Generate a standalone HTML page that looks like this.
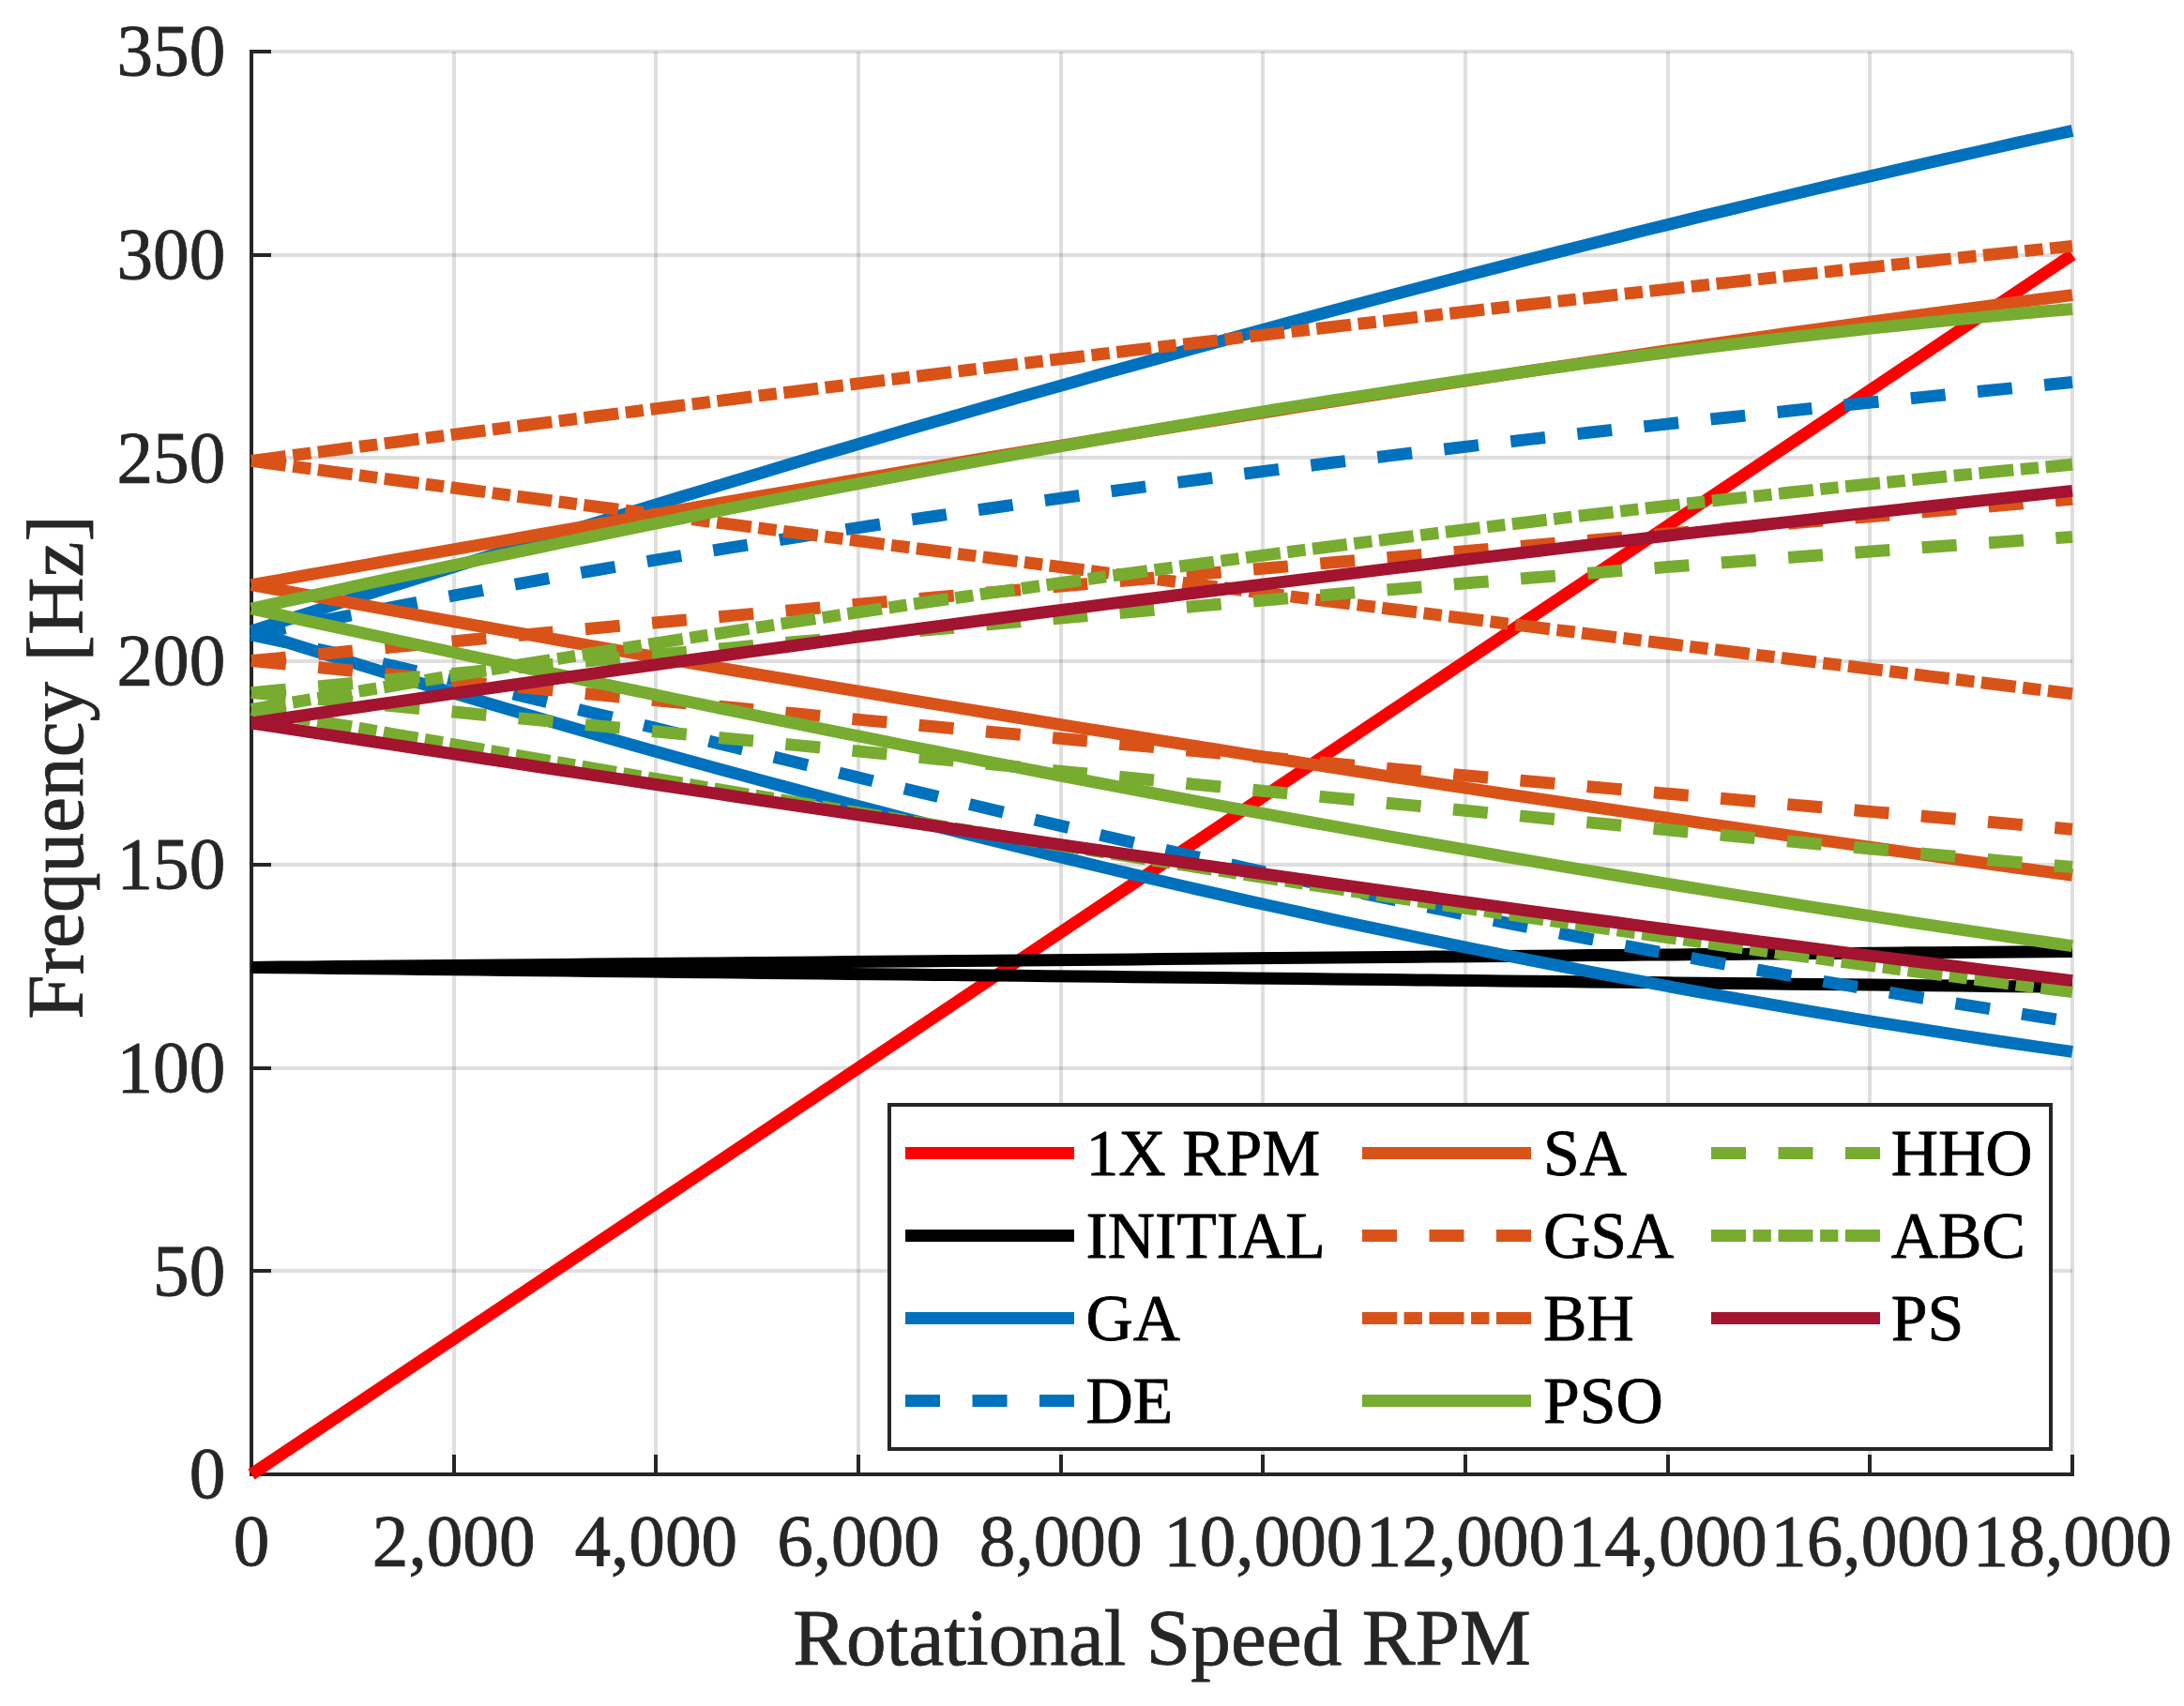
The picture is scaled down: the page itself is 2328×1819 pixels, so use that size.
<!DOCTYPE html>
<html lang="en"><head><meta charset="utf-8"><title>Campbell diagram</title>
<style>html,body{margin:0;padding:0;background:#fff;overflow:hidden}svg{display:block}text{font-family:"Liberation Serif","Times New Roman",serif}</style></head><body>
<svg width="2328" height="1819" viewBox="0 0 2328 1819">
<rect width="2328" height="1819" fill="#fff"/>
<g stroke="#262626" stroke-opacity="0.15" stroke-width="4" fill="none">
<line x1="268" y1="55.0" x2="268" y2="1572.0"/>
<line x1="484" y1="55.0" x2="484" y2="1572.0"/>
<line x1="699" y1="55.0" x2="699" y2="1572.0"/>
<line x1="915" y1="55.0" x2="915" y2="1572.0"/>
<line x1="1131" y1="55.0" x2="1131" y2="1572.0"/>
<line x1="1346" y1="55.0" x2="1346" y2="1572.0"/>
<line x1="1562" y1="55.0" x2="1562" y2="1572.0"/>
<line x1="1778" y1="55.0" x2="1778" y2="1572.0"/>
<line x1="1993" y1="55.0" x2="1993" y2="1572.0"/>
<line x1="2209" y1="55.0" x2="2209" y2="1572.0"/>
<line x1="268.0" y1="1572" x2="2209.0" y2="1572"/>
<line x1="268.0" y1="1355" x2="2209.0" y2="1355"/>
<line x1="268.0" y1="1139" x2="2209.0" y2="1139"/>
<line x1="268.0" y1="922" x2="2209.0" y2="922"/>
<line x1="268.0" y1="705" x2="2209.0" y2="705"/>
<line x1="268.0" y1="488" x2="2209.0" y2="488"/>
<line x1="268.0" y1="272" x2="2209.0" y2="272"/>
<line x1="268.0" y1="55" x2="2209.0" y2="55"/>
</g>
<g stroke="#262626" stroke-width="4" fill="none" stroke-linecap="butt">
<path d="M268.0,53.0 V1574.0"/>
<path d="M266.0,1572.0 H2211.0"/>
<line x1="268" y1="1572.0" x2="268" y2="1551.0"/>
<line x1="484" y1="1572.0" x2="484" y2="1551.0"/>
<line x1="699" y1="1572.0" x2="699" y2="1551.0"/>
<line x1="915" y1="1572.0" x2="915" y2="1551.0"/>
<line x1="1131" y1="1572.0" x2="1131" y2="1551.0"/>
<line x1="1346" y1="1572.0" x2="1346" y2="1551.0"/>
<line x1="1562" y1="1572.0" x2="1562" y2="1551.0"/>
<line x1="1778" y1="1572.0" x2="1778" y2="1551.0"/>
<line x1="1993" y1="1572.0" x2="1993" y2="1551.0"/>
<line x1="2209" y1="1572.0" x2="2209" y2="1551.0"/>
<line x1="268.0" y1="1572" x2="289.0" y2="1572"/>
<line x1="268.0" y1="1355" x2="289.0" y2="1355"/>
<line x1="268.0" y1="1139" x2="289.0" y2="1139"/>
<line x1="268.0" y1="922" x2="289.0" y2="922"/>
<line x1="268.0" y1="705" x2="289.0" y2="705"/>
<line x1="268.0" y1="488" x2="289.0" y2="488"/>
<line x1="268.0" y1="272" x2="289.0" y2="272"/>
<line x1="268.0" y1="55" x2="289.0" y2="55"/>
</g>
<g fill="none" stroke-width="13" stroke-linecap="butt" stroke-linejoin="round">
<path d="M268.0,1572.0 L2209.0,271.7" stroke="#ff0000"/>
<path d="M268.0,1031.4 L298.3,1031.1 L328.7,1030.9 L359.0,1030.6 L389.3,1030.3 L419.6,1030.0 L450.0,1029.8 L480.3,1029.5 L510.6,1029.2 L541.0,1028.9 L571.3,1028.7 L601.6,1028.4 L631.9,1028.1 L662.3,1027.8 L692.6,1027.5 L722.9,1027.3 L753.2,1027.0 L783.6,1026.7 L813.9,1026.4 L844.2,1026.2 L874.6,1025.9 L904.9,1025.6 L935.2,1025.3 L965.5,1025.1 L995.9,1024.8 L1026.2,1024.5 L1056.5,1024.2 L1086.9,1024.0 L1117.2,1023.7 L1147.5,1023.4 L1177.8,1023.2 L1208.2,1022.9 L1238.5,1022.6 L1268.8,1022.3 L1299.2,1022.1 L1329.5,1021.8 L1359.8,1021.5 L1390.1,1021.3 L1420.5,1021.0 L1450.8,1020.7 L1481.1,1020.5 L1511.5,1020.2 L1541.8,1019.9 L1572.1,1019.7 L1602.4,1019.4 L1632.8,1019.2 L1663.1,1018.9 L1693.4,1018.6 L1723.8,1018.4 L1754.1,1018.1 L1784.4,1017.9 L1814.7,1017.6 L1845.1,1017.4 L1875.4,1017.1 L1905.7,1016.9 L1936.0,1016.6 L1966.4,1016.4 L1996.7,1016.2 L2027.0,1015.9 L2057.4,1015.7 L2087.7,1015.4 L2118.0,1015.2 L2148.3,1015.0 L2178.7,1014.7 L2209.0,1014.5" stroke="#000000"/>
<path d="M268.0,1031.4 L298.3,1031.7 L328.7,1032.1 L359.0,1032.4 L389.3,1032.7 L419.6,1033.1 L450.0,1033.4 L480.3,1033.7 L510.6,1034.1 L541.0,1034.4 L571.3,1034.7 L601.6,1035.1 L631.9,1035.4 L662.3,1035.7 L692.6,1036.1 L722.9,1036.4 L753.2,1036.7 L783.6,1037.0 L813.9,1037.4 L844.2,1037.7 L874.6,1038.0 L904.9,1038.4 L935.2,1038.7 L965.5,1039.0 L995.9,1039.4 L1026.2,1039.7 L1056.5,1040.0 L1086.9,1040.3 L1117.2,1040.7 L1147.5,1041.0 L1177.8,1041.3 L1208.2,1041.7 L1238.5,1042.0 L1268.8,1042.3 L1299.2,1042.6 L1329.5,1043.0 L1359.8,1043.3 L1390.1,1043.6 L1420.5,1043.9 L1450.8,1044.3 L1481.1,1044.6 L1511.5,1044.9 L1541.8,1045.3 L1572.1,1045.6 L1602.4,1045.9 L1632.8,1046.2 L1663.1,1046.6 L1693.4,1046.9 L1723.8,1047.2 L1754.1,1047.5 L1784.4,1047.9 L1814.7,1048.2 L1845.1,1048.5 L1875.4,1048.8 L1905.7,1049.2 L1936.0,1049.5 L1966.4,1049.8 L1996.7,1050.1 L2027.0,1050.5 L2057.4,1050.8 L2087.7,1051.1 L2118.0,1051.4 L2148.3,1051.8 L2178.7,1052.1 L2209.0,1052.4" stroke="#000000"/>
<path d="M268.0,673.0 L298.3,663.3 L328.7,653.6 L359.0,643.9 L389.3,634.2 L419.6,624.6 L450.0,615.1 L480.3,605.6 L510.6,596.1 L541.0,586.6 L571.3,577.2 L601.6,567.8 L631.9,558.5 L662.3,549.2 L692.6,540.0 L722.9,530.8 L753.2,521.6 L783.6,512.5 L813.9,503.4 L844.2,494.3 L874.6,485.3 L904.9,476.4 L935.2,467.5 L965.5,458.6 L995.9,449.8 L1026.2,441.0 L1056.5,432.3 L1086.9,423.6 L1117.2,415.0 L1147.5,406.4 L1177.8,397.8 L1208.2,389.4 L1238.5,380.9 L1268.8,372.5 L1299.2,364.2 L1329.5,355.9 L1359.8,347.7 L1390.1,339.5 L1420.5,331.3 L1450.8,323.2 L1481.1,315.2 L1511.5,307.2 L1541.8,299.3 L1572.1,291.4 L1602.4,283.6 L1632.8,275.8 L1663.1,268.1 L1693.4,260.5 L1723.8,252.9 L1754.1,245.3 L1784.4,237.9 L1814.7,230.4 L1845.1,223.1 L1875.4,215.8 L1905.7,208.5 L1936.0,201.3 L1966.4,194.2 L1996.7,187.1 L2027.0,180.1 L2057.4,173.2 L2087.7,166.3 L2118.0,159.5 L2148.3,152.7 L2178.7,146.0 L2209.0,139.4" stroke="#0072bd"/>
<path d="M268.0,673.0 L298.3,682.5 L328.7,692.0 L359.0,701.3 L389.3,710.6 L419.6,719.9 L450.0,729.0 L480.3,738.1 L510.6,747.1 L541.0,756.0 L571.3,764.8 L601.6,773.6 L631.9,782.3 L662.3,790.9 L692.6,799.4 L722.9,807.9 L753.2,816.3 L783.6,824.6 L813.9,832.8 L844.2,840.9 L874.6,849.0 L904.9,857.0 L935.2,864.9 L965.5,872.7 L995.9,880.4 L1026.2,888.1 L1056.5,895.7 L1086.9,903.2 L1117.2,910.6 L1147.5,917.9 L1177.8,925.2 L1208.2,932.4 L1238.5,939.5 L1268.8,946.5 L1299.2,953.4 L1329.5,960.3 L1359.8,967.0 L1390.1,973.7 L1420.5,980.3 L1450.8,986.8 L1481.1,993.2 L1511.5,999.6 L1541.8,1005.8 L1572.1,1012.0 L1602.4,1018.1 L1632.8,1024.1 L1663.1,1030.0 L1693.4,1035.8 L1723.8,1041.6 L1754.1,1047.2 L1784.4,1052.8 L1814.7,1058.3 L1845.1,1063.6 L1875.4,1068.9 L1905.7,1074.2 L1936.0,1079.3 L1966.4,1084.3 L1996.7,1089.3 L2027.0,1094.1 L2057.4,1098.9 L2087.7,1103.6 L2118.0,1108.2 L2148.3,1112.7 L2178.7,1117.1 L2209.0,1121.4" stroke="#0072bd"/>
<path d="M268.0,677.0 L298.3,670.8 L328.7,664.8 L359.0,658.8 L389.3,652.9 L419.6,647.1 L450.0,641.3 L480.3,635.7 L510.6,630.1 L541.0,624.6 L571.3,619.2 L601.6,613.8 L631.9,608.5 L662.3,603.3 L692.6,598.2 L722.9,593.1 L753.2,588.1 L783.6,583.2 L813.9,578.3 L844.2,573.5 L874.6,568.8 L904.9,564.1 L935.2,559.5 L965.5,554.9 L995.9,550.5 L1026.2,546.0 L1056.5,541.7 L1086.9,537.3 L1117.2,533.1 L1147.5,528.9 L1177.8,524.7 L1208.2,520.6 L1238.5,516.6 L1268.8,512.6 L1299.2,508.6 L1329.5,504.7 L1359.8,500.9 L1390.1,497.1 L1420.5,493.3 L1450.8,489.6 L1481.1,485.9 L1511.5,482.3 L1541.8,478.7 L1572.1,475.1 L1602.4,471.6 L1632.8,468.1 L1663.1,464.7 L1693.4,461.3 L1723.8,457.9 L1754.1,454.6 L1784.4,451.2 L1814.7,448.0 L1845.1,444.7 L1875.4,441.5 L1905.7,438.3 L1936.0,435.1 L1966.4,432.0 L1996.7,428.8 L2027.0,425.7 L2057.4,422.6 L2087.7,419.6 L2118.0,416.5 L2148.3,413.5 L2178.7,410.5 L2209.0,407.5" stroke="#0072bd" stroke-dasharray="37 34.5"/>
<path d="M268.0,677.0 L298.3,683.4 L328.7,690.0 L359.0,696.6 L389.3,703.4 L419.6,710.2 L450.0,717.2 L480.3,724.2 L510.6,731.3 L541.0,738.4 L571.3,745.6 L601.6,752.9 L631.9,760.2 L662.3,767.5 L692.6,774.8 L722.9,782.2 L753.2,789.6 L783.6,797.0 L813.9,804.4 L844.2,811.8 L874.6,819.2 L904.9,826.5 L935.2,833.9 L965.5,841.2 L995.9,848.5 L1026.2,855.8 L1056.5,863.0 L1086.9,870.2 L1117.2,877.3 L1147.5,884.4 L1177.8,891.5 L1208.2,898.5 L1238.5,905.4 L1268.8,912.3 L1299.2,919.1 L1329.5,925.8 L1359.8,932.5 L1390.1,939.1 L1420.5,945.6 L1450.8,952.1 L1481.1,958.5 L1511.5,964.8 L1541.8,971.0 L1572.1,977.2 L1602.4,983.3 L1632.8,989.3 L1663.1,995.2 L1693.4,1001.0 L1723.8,1006.8 L1754.1,1012.5 L1784.4,1018.1 L1814.7,1023.6 L1845.1,1029.1 L1875.4,1034.5 L1905.7,1039.8 L1936.0,1045.1 L1966.4,1050.2 L1996.7,1055.3 L2027.0,1060.4 L2057.4,1065.4 L2087.7,1070.3 L2118.0,1075.2 L2148.3,1080.0 L2178.7,1084.8 L2209.0,1089.5" stroke="#0072bd" stroke-dasharray="37 34.5"/>
<path d="M268.0,623.6 L298.3,618.3 L328.7,612.9 L359.0,607.6 L389.3,602.3 L419.6,597.0 L450.0,591.7 L480.3,586.4 L510.6,581.1 L541.0,575.8 L571.3,570.5 L601.6,565.2 L631.9,559.9 L662.3,554.7 L692.6,549.4 L722.9,544.2 L753.2,539.0 L783.6,533.7 L813.9,528.5 L844.2,523.3 L874.6,518.2 L904.9,513.0 L935.2,507.9 L965.5,502.7 L995.9,497.6 L1026.2,492.5 L1056.5,487.4 L1086.9,482.4 L1117.2,477.3 L1147.5,472.3 L1177.8,467.3 L1208.2,462.3 L1238.5,457.4 L1268.8,452.4 L1299.2,447.5 L1329.5,442.6 L1359.8,437.8 L1390.1,432.9 L1420.5,428.1 L1450.8,423.4 L1481.1,418.6 L1511.5,413.9 L1541.8,409.2 L1572.1,404.5 L1602.4,399.9 L1632.8,395.3 L1663.1,390.7 L1693.4,386.2 L1723.8,381.7 L1754.1,377.2 L1784.4,372.7 L1814.7,368.3 L1845.1,364.0 L1875.4,359.6 L1905.7,355.3 L1936.0,351.1 L1966.4,346.9 L1996.7,342.7 L2027.0,338.6 L2057.4,334.5 L2087.7,330.4 L2118.0,326.4 L2148.3,322.4 L2178.7,318.5 L2209.0,314.6" stroke="#d95319"/>
<path d="M268.0,623.6 L298.3,629.2 L328.7,634.7 L359.0,640.2 L389.3,645.7 L419.6,651.2 L450.0,656.6 L480.3,662.1 L510.6,667.5 L541.0,672.8 L571.3,678.2 L601.6,683.5 L631.9,688.8 L662.3,694.1 L692.6,699.3 L722.9,704.6 L753.2,709.8 L783.6,715.0 L813.9,720.1 L844.2,725.2 L874.6,730.4 L904.9,735.4 L935.2,740.5 L965.5,745.6 L995.9,750.6 L1026.2,755.6 L1056.5,760.5 L1086.9,765.5 L1117.2,770.4 L1147.5,775.3 L1177.8,780.2 L1208.2,785.0 L1238.5,789.9 L1268.8,794.7 L1299.2,799.5 L1329.5,804.3 L1359.8,809.0 L1390.1,813.7 L1420.5,818.4 L1450.8,823.1 L1481.1,827.8 L1511.5,832.4 L1541.8,837.0 L1572.1,841.6 L1602.4,846.2 L1632.8,850.7 L1663.1,855.3 L1693.4,859.8 L1723.8,864.3 L1754.1,868.7 L1784.4,873.2 L1814.7,877.6 L1845.1,882.0 L1875.4,886.4 L1905.7,890.8 L1936.0,895.1 L1966.4,899.4 L1996.7,903.7 L2027.0,908.0 L2057.4,912.3 L2087.7,916.5 L2118.0,920.8 L2148.3,925.0 L2178.7,929.1 L2209.0,933.3" stroke="#d95319"/>
<path d="M268.0,704.5 L298.3,701.6 L328.7,698.6 L359.0,695.7 L389.3,692.8 L419.6,689.9 L450.0,687.1 L480.3,684.2 L510.6,681.3 L541.0,678.5 L571.3,675.7 L601.6,672.8 L631.9,670.0 L662.3,667.2 L692.6,664.4 L722.9,661.7 L753.2,658.9 L783.6,656.1 L813.9,653.4 L844.2,650.6 L874.6,647.9 L904.9,645.1 L935.2,642.4 L965.5,639.7 L995.9,637.0 L1026.2,634.3 L1056.5,631.6 L1086.9,628.9 L1117.2,626.2 L1147.5,623.6 L1177.8,620.9 L1208.2,618.2 L1238.5,615.6 L1268.8,612.9 L1299.2,610.3 L1329.5,607.6 L1359.8,605.0 L1390.1,602.4 L1420.5,599.7 L1450.8,597.1 L1481.1,594.5 L1511.5,591.9 L1541.8,589.3 L1572.1,586.7 L1602.4,584.1 L1632.8,581.5 L1663.1,578.9 L1693.4,576.3 L1723.8,573.7 L1754.1,571.1 L1784.4,568.5 L1814.7,565.9 L1845.1,563.3 L1875.4,560.7 L1905.7,558.2 L1936.0,555.6 L1966.4,553.0 L1996.7,550.4 L2027.0,547.8 L2057.4,545.2 L2087.7,542.6 L2118.0,540.1 L2148.3,537.5 L2178.7,534.9 L2209.0,532.3" stroke="#d95319" stroke-dasharray="37 34.5"/>
<path d="M268.0,704.5 L298.3,707.5 L328.7,710.5 L359.0,713.5 L389.3,716.5 L419.6,719.5 L450.0,722.5 L480.3,725.5 L510.6,728.4 L541.0,731.4 L571.3,734.3 L601.6,737.3 L631.9,740.2 L662.3,743.1 L692.6,746.1 L722.9,749.0 L753.2,751.9 L783.6,754.8 L813.9,757.7 L844.2,760.5 L874.6,763.4 L904.9,766.3 L935.2,769.1 L965.5,772.0 L995.9,774.8 L1026.2,777.7 L1056.5,780.5 L1086.9,783.3 L1117.2,786.2 L1147.5,789.0 L1177.8,791.8 L1208.2,794.6 L1238.5,797.4 L1268.8,800.2 L1299.2,803.0 L1329.5,805.7 L1359.8,808.5 L1390.1,811.3 L1420.5,814.0 L1450.8,816.8 L1481.1,819.5 L1511.5,822.3 L1541.8,825.0 L1572.1,827.8 L1602.4,830.5 L1632.8,833.2 L1663.1,835.9 L1693.4,838.7 L1723.8,841.4 L1754.1,844.1 L1784.4,846.8 L1814.7,849.5 L1845.1,852.2 L1875.4,854.9 L1905.7,857.6 L1936.0,860.2 L1966.4,862.9 L1996.7,865.6 L2027.0,868.3 L2057.4,870.9 L2087.7,873.6 L2118.0,876.2 L2148.3,878.9 L2178.7,881.6 L2209.0,884.2" stroke="#d95319" stroke-dasharray="37 34.5"/>
<path d="M268.0,491.4 L298.3,487.4 L328.7,483.4 L359.0,479.5 L389.3,475.5 L419.6,471.6 L450.0,467.6 L480.3,463.7 L510.6,459.8 L541.0,455.9 L571.3,452.0 L601.6,448.2 L631.9,444.3 L662.3,440.5 L692.6,436.6 L722.9,432.8 L753.2,429.0 L783.6,425.2 L813.9,421.4 L844.2,417.7 L874.6,413.9 L904.9,410.2 L935.2,406.4 L965.5,402.7 L995.9,399.0 L1026.2,395.3 L1056.5,391.6 L1086.9,388.0 L1117.2,384.3 L1147.5,380.7 L1177.8,377.0 L1208.2,373.4 L1238.5,369.8 L1268.8,366.3 L1299.2,362.7 L1329.5,359.1 L1359.8,355.6 L1390.1,352.1 L1420.5,348.5 L1450.8,345.0 L1481.1,341.6 L1511.5,338.1 L1541.8,334.6 L1572.1,331.2 L1602.4,327.8 L1632.8,324.4 L1663.1,321.0 L1693.4,317.6 L1723.8,314.2 L1754.1,310.9 L1784.4,307.5 L1814.7,304.2 L1845.1,300.9 L1875.4,297.6 L1905.7,294.3 L1936.0,291.1 L1966.4,287.8 L1996.7,284.6 L2027.0,281.4 L2057.4,278.2 L2087.7,275.0 L2118.0,271.8 L2148.3,268.7 L2178.7,265.5 L2209.0,262.4" stroke="#d95319" stroke-dasharray="37 7.6 19.3 7.6"/>
<path d="M268.0,491.4 L298.3,495.5 L328.7,499.5 L359.0,503.6 L389.3,507.6 L419.6,511.7 L450.0,515.7 L480.3,519.7 L510.6,523.7 L541.0,527.8 L571.3,531.8 L601.6,535.8 L631.9,539.8 L662.3,543.7 L692.6,547.7 L722.9,551.7 L753.2,555.7 L783.6,559.6 L813.9,563.6 L844.2,567.5 L874.6,571.5 L904.9,575.4 L935.2,579.4 L965.5,583.3 L995.9,587.2 L1026.2,591.1 L1056.5,595.0 L1086.9,598.9 L1117.2,602.8 L1147.5,606.7 L1177.8,610.6 L1208.2,614.5 L1238.5,618.4 L1268.8,622.3 L1299.2,626.1 L1329.5,630.0 L1359.8,633.8 L1390.1,637.7 L1420.5,641.5 L1450.8,645.4 L1481.1,649.2 L1511.5,653.0 L1541.8,656.8 L1572.1,660.7 L1602.4,664.5 L1632.8,668.3 L1663.1,672.1 L1693.4,675.9 L1723.8,679.7 L1754.1,683.5 L1784.4,687.2 L1814.7,691.0 L1845.1,694.8 L1875.4,698.6 L1905.7,702.3 L1936.0,706.1 L1966.4,709.8 L1996.7,713.6 L2027.0,717.3 L2057.4,721.1 L2087.7,724.8 L2118.0,728.5 L2148.3,732.3 L2178.7,736.0 L2209.0,739.7" stroke="#d95319" stroke-dasharray="37 7.6 19.3 7.6"/>
<path d="M268.0,649.0 L298.3,642.4 L328.7,635.8 L359.0,629.3 L389.3,622.7 L419.6,616.2 L450.0,609.8 L480.3,603.4 L510.6,597.0 L541.0,590.6 L571.3,584.3 L601.6,578.0 L631.9,571.8 L662.3,565.6 L692.6,559.4 L722.9,553.3 L753.2,547.2 L783.6,541.2 L813.9,535.2 L844.2,529.3 L874.6,523.4 L904.9,517.6 L935.2,511.8 L965.5,506.0 L995.9,500.4 L1026.2,494.7 L1056.5,489.2 L1086.9,483.7 L1117.2,478.2 L1147.5,472.8 L1177.8,467.5 L1208.2,462.2 L1238.5,457.0 L1268.8,451.8 L1299.2,446.7 L1329.5,441.7 L1359.8,436.7 L1390.1,431.8 L1420.5,427.0 L1450.8,422.3 L1481.1,417.6 L1511.5,413.0 L1541.8,408.4 L1572.1,404.0 L1602.4,399.6 L1632.8,395.3 L1663.1,391.1 L1693.4,386.9 L1723.8,382.8 L1754.1,378.8 L1784.4,374.9 L1814.7,371.1 L1845.1,367.3 L1875.4,363.7 L1905.7,360.1 L1936.0,356.6 L1966.4,353.2 L1996.7,349.9 L2027.0,346.7 L2057.4,343.6 L2087.7,340.6 L2118.0,337.6 L2148.3,334.8 L2178.7,332.0 L2209.0,329.4" stroke="#77ac30"/>
<path d="M268.0,649.0 L298.3,655.7 L328.7,662.3 L359.0,668.9 L389.3,675.5 L419.6,682.0 L450.0,688.5 L480.3,695.0 L510.6,701.5 L541.0,707.9 L571.3,714.3 L601.6,720.7 L631.9,727.1 L662.3,733.4 L692.6,739.7 L722.9,746.0 L753.2,752.2 L783.6,758.4 L813.9,764.6 L844.2,770.7 L874.6,776.8 L904.9,782.9 L935.2,788.9 L965.5,795.0 L995.9,800.9 L1026.2,806.9 L1056.5,812.8 L1086.9,818.7 L1117.2,824.5 L1147.5,830.3 L1177.8,836.1 L1208.2,841.8 L1238.5,847.5 L1268.8,853.2 L1299.2,858.8 L1329.5,864.4 L1359.8,869.9 L1390.1,875.5 L1420.5,880.9 L1450.8,886.4 L1481.1,891.8 L1511.5,897.1 L1541.8,902.4 L1572.1,907.7 L1602.4,913.0 L1632.8,918.2 L1663.1,923.3 L1693.4,928.4 L1723.8,933.5 L1754.1,938.5 L1784.4,943.5 L1814.7,948.4 L1845.1,953.3 L1875.4,958.2 L1905.7,963.0 L1936.0,967.8 L1966.4,972.5 L1996.7,977.2 L2027.0,981.8 L2057.4,986.4 L2087.7,990.9 L2118.0,995.4 L2148.3,999.9 L2178.7,1004.3 L2209.0,1008.6" stroke="#77ac30"/>
<path d="M268.0,738.6 L298.3,735.7 L328.7,732.9 L359.0,730.0 L389.3,727.2 L419.6,724.3 L450.0,721.5 L480.3,718.6 L510.6,715.8 L541.0,712.9 L571.3,710.1 L601.6,707.3 L631.9,704.4 L662.3,701.6 L692.6,698.8 L722.9,696.0 L753.2,693.2 L783.6,690.4 L813.9,687.6 L844.2,684.8 L874.6,682.1 L904.9,679.3 L935.2,676.5 L965.5,673.8 L995.9,671.1 L1026.2,668.3 L1056.5,665.6 L1086.9,662.9 L1117.2,660.2 L1147.5,657.5 L1177.8,654.8 L1208.2,652.2 L1238.5,649.5 L1268.8,646.9 L1299.2,644.2 L1329.5,641.6 L1359.8,639.0 L1390.1,636.4 L1420.5,633.8 L1450.8,631.2 L1481.1,628.7 L1511.5,626.2 L1541.8,623.6 L1572.1,621.1 L1602.4,618.6 L1632.8,616.1 L1663.1,613.7 L1693.4,611.2 L1723.8,608.8 L1754.1,606.4 L1784.4,604.0 L1814.7,601.6 L1845.1,599.2 L1875.4,596.9 L1905.7,594.6 L1936.0,592.3 L1966.4,590.0 L1996.7,587.7 L2027.0,585.5 L2057.4,583.2 L2087.7,581.0 L2118.0,578.8 L2148.3,576.7 L2178.7,574.5 L2209.0,572.4" stroke="#77ac30" stroke-dasharray="37 34.5"/>
<path d="M268.0,738.6 L298.3,741.4 L328.7,744.3 L359.0,747.2 L389.3,750.1 L419.6,752.9 L450.0,755.8 L480.3,758.7 L510.6,761.7 L541.0,764.6 L571.3,767.5 L601.6,770.4 L631.9,773.4 L662.3,776.3 L692.6,779.3 L722.9,782.2 L753.2,785.2 L783.6,788.1 L813.9,791.1 L844.2,794.1 L874.6,797.0 L904.9,800.0 L935.2,803.0 L965.5,806.0 L995.9,809.0 L1026.2,811.9 L1056.5,814.9 L1086.9,817.9 L1117.2,820.9 L1147.5,823.9 L1177.8,826.8 L1208.2,829.8 L1238.5,832.8 L1268.8,835.8 L1299.2,838.7 L1329.5,841.7 L1359.8,844.7 L1390.1,847.6 L1420.5,850.6 L1450.8,853.5 L1481.1,856.5 L1511.5,859.4 L1541.8,862.3 L1572.1,865.3 L1602.4,868.2 L1632.8,871.1 L1663.1,874.0 L1693.4,876.9 L1723.8,879.8 L1754.1,882.7 L1784.4,885.5 L1814.7,888.4 L1845.1,891.2 L1875.4,894.1 L1905.7,896.9 L1936.0,899.7 L1966.4,902.5 L1996.7,905.3 L2027.0,908.1 L2057.4,910.9 L2087.7,913.6 L2118.0,916.4 L2148.3,919.1 L2178.7,921.8 L2209.0,924.5" stroke="#77ac30" stroke-dasharray="37 34.5"/>
<path d="M268.0,756.5 L298.3,751.3 L328.7,746.2 L359.0,741.1 L389.3,736.0 L419.6,731.0 L450.0,725.9 L480.3,720.9 L510.6,716.0 L541.0,711.0 L571.3,706.1 L601.6,701.3 L631.9,696.4 L662.3,691.6 L692.6,686.8 L722.9,682.1 L753.2,677.4 L783.6,672.7 L813.9,668.1 L844.2,663.4 L874.6,658.9 L904.9,654.3 L935.2,649.8 L965.5,645.3 L995.9,640.9 L1026.2,636.5 L1056.5,632.1 L1086.9,627.8 L1117.2,623.5 L1147.5,619.2 L1177.8,615.0 L1208.2,610.8 L1238.5,606.6 L1268.8,602.5 L1299.2,598.4 L1329.5,594.4 L1359.8,590.4 L1390.1,586.4 L1420.5,582.5 L1450.8,578.6 L1481.1,574.8 L1511.5,571.0 L1541.8,567.2 L1572.1,563.5 L1602.4,559.8 L1632.8,556.2 L1663.1,552.6 L1693.4,549.0 L1723.8,545.5 L1754.1,542.0 L1784.4,538.6 L1814.7,535.2 L1845.1,531.9 L1875.4,528.6 L1905.7,525.3 L1936.0,522.1 L1966.4,518.9 L1996.7,515.8 L2027.0,512.8 L2057.4,509.7 L2087.7,506.8 L2118.0,503.8 L2148.3,500.9 L2178.7,498.1 L2209.0,495.3" stroke="#77ac30" stroke-dasharray="37 7.6 19.3 7.6"/>
<path d="M268.0,756.5 L298.3,761.8 L328.7,767.0 L359.0,772.3 L389.3,777.5 L419.6,782.8 L450.0,788.0 L480.3,793.2 L510.6,798.4 L541.0,803.6 L571.3,808.8 L601.6,814.0 L631.9,819.1 L662.3,824.3 L692.6,829.4 L722.9,834.5 L753.2,839.6 L783.6,844.7 L813.9,849.7 L844.2,854.8 L874.6,859.8 L904.9,864.8 L935.2,869.8 L965.5,874.8 L995.9,879.7 L1026.2,884.7 L1056.5,889.6 L1086.9,894.5 L1117.2,899.3 L1147.5,904.2 L1177.8,909.0 L1208.2,913.8 L1238.5,918.6 L1268.8,923.4 L1299.2,928.1 L1329.5,932.9 L1359.8,937.6 L1390.1,942.2 L1420.5,946.9 L1450.8,951.5 L1481.1,956.1 L1511.5,960.7 L1541.8,965.2 L1572.1,969.7 L1602.4,974.2 L1632.8,978.7 L1663.1,983.1 L1693.4,987.5 L1723.8,991.9 L1754.1,996.2 L1784.4,1000.5 L1814.7,1004.8 L1845.1,1009.1 L1875.4,1013.3 L1905.7,1017.5 L1936.0,1021.6 L1966.4,1025.8 L1996.7,1029.8 L2027.0,1033.9 L2057.4,1037.9 L2087.7,1041.9 L2118.0,1045.9 L2148.3,1049.8 L2178.7,1053.7 L2209.0,1057.5" stroke="#77ac30" stroke-dasharray="37 7.6 19.3 7.6"/>
<path d="M268.0,771.0 L298.3,766.5 L328.7,762.0 L359.0,757.5 L389.3,753.0 L419.6,748.6 L450.0,744.2 L480.3,739.8 L510.6,735.4 L541.0,731.0 L571.3,726.7 L601.6,722.4 L631.9,718.1 L662.3,713.8 L692.6,709.6 L722.9,705.4 L753.2,701.2 L783.6,697.0 L813.9,692.8 L844.2,688.7 L874.6,684.5 L904.9,680.4 L935.2,676.3 L965.5,672.3 L995.9,668.2 L1026.2,664.2 L1056.5,660.2 L1086.9,656.3 L1117.2,652.3 L1147.5,648.4 L1177.8,644.4 L1208.2,640.5 L1238.5,636.7 L1268.8,632.8 L1299.2,629.0 L1329.5,625.2 L1359.8,621.4 L1390.1,617.6 L1420.5,613.9 L1450.8,610.1 L1481.1,606.4 L1511.5,602.7 L1541.8,599.0 L1572.1,595.4 L1602.4,591.8 L1632.8,588.2 L1663.1,584.6 L1693.4,581.0 L1723.8,577.5 L1754.1,573.9 L1784.4,570.4 L1814.7,566.9 L1845.1,563.5 L1875.4,560.0 L1905.7,556.6 L1936.0,553.2 L1966.4,549.8 L1996.7,546.4 L2027.0,543.1 L2057.4,539.7 L2087.7,536.4 L2118.0,533.1 L2148.3,529.9 L2178.7,526.6 L2209.0,523.4" stroke="#a2142f"/>
<path d="M268.0,771.0 L298.3,775.6 L328.7,780.3 L359.0,784.9 L389.3,789.5 L419.6,794.1 L450.0,798.7 L480.3,803.4 L510.6,808.0 L541.0,812.6 L571.3,817.2 L601.6,821.8 L631.9,826.4 L662.3,830.9 L692.6,835.5 L722.9,840.1 L753.2,844.6 L783.6,849.2 L813.9,853.7 L844.2,858.3 L874.6,862.8 L904.9,867.3 L935.2,871.8 L965.5,876.3 L995.9,880.8 L1026.2,885.3 L1056.5,889.7 L1086.9,894.2 L1117.2,898.6 L1147.5,903.1 L1177.8,907.5 L1208.2,911.9 L1238.5,916.2 L1268.8,920.6 L1299.2,924.9 L1329.5,929.3 L1359.8,933.6 L1390.1,937.9 L1420.5,942.2 L1450.8,946.4 L1481.1,950.7 L1511.5,954.9 L1541.8,959.1 L1572.1,963.3 L1602.4,967.4 L1632.8,971.6 L1663.1,975.7 L1693.4,979.8 L1723.8,983.8 L1754.1,987.9 L1784.4,991.9 L1814.7,995.9 L1845.1,999.9 L1875.4,1003.9 L1905.7,1007.8 L1936.0,1011.7 L1966.4,1015.6 L1996.7,1019.4 L2027.0,1023.3 L2057.4,1027.0 L2087.7,1030.8 L2118.0,1034.6 L2148.3,1038.3 L2178.7,1041.9 L2209.0,1045.6" stroke="#a2142f"/>
</g>
<g font-size="77.2" fill="#262626" stroke="#262626" stroke-width="0.8" stroke-linejoin="round">
<g text-anchor="middle">
<text x="268.0" y="1669">0</text>
<text x="483.7" y="1669">2,000</text>
<text x="699.3" y="1669">4,000</text>
<text x="915.0" y="1669">6,000</text>
<text x="1130.7" y="1669">8,000</text>
<text x="1346.3" y="1669">10,000</text>
<text x="1562.0" y="1669">12,000</text>
<text x="1777.7" y="1669">14,000</text>
<text x="1993.3" y="1669">16,000</text>
<text x="2209.0" y="1669">18,000</text>
</g><g text-anchor="end">
<text x="240.3" y="1597.3">0</text>
<text x="240.3" y="1380.6">50</text>
<text x="240.3" y="1163.9">100</text>
<text x="240.3" y="947.2">150</text>
<text x="240.3" y="730.4">200</text>
<text x="240.3" y="513.7">250</text>
<text x="240.3" y="297.0">300</text>
<text x="240.3" y="80.3">350</text>
</g></g>
<text x="1238.5" y="1774.5" font-size="85.3" fill="#262626" stroke="#262626" stroke-width="0.8" stroke-linejoin="round" text-anchor="middle">Rotational Speed RPM</text>
<text transform="translate(88,818) rotate(-90)" font-size="85.3" fill="#262626" stroke="#262626" stroke-width="0.8" stroke-linejoin="round" text-anchor="middle">Frequency [Hz]</text>
<rect x="948" y="1178" width="1238" height="367" fill="#fff" stroke="#262626" stroke-width="4"/>
<g fill="none" stroke-width="13">
<line x1="965.0" y1="1229.5" x2="1145.0" y2="1229.5" stroke="#ff0000"/>
<line x1="965.0" y1="1317.5" x2="1145.0" y2="1317.5" stroke="#000000"/>
<line x1="965.0" y1="1405.5" x2="1145.0" y2="1405.5" stroke="#0072bd"/>
<line x1="965.0" y1="1493.5" x2="1145.0" y2="1493.5" stroke="#0072bd" stroke-dasharray="37 34.5"/>
<line x1="1452.0" y1="1229.5" x2="1632.0" y2="1229.5" stroke="#d95319"/>
<line x1="1452.0" y1="1317.5" x2="1632.0" y2="1317.5" stroke="#d95319" stroke-dasharray="37 34.5"/>
<line x1="1452.0" y1="1405.5" x2="1632.0" y2="1405.5" stroke="#d95319" stroke-dasharray="37 7.6 19.3 7.6"/>
<line x1="1452.0" y1="1493.5" x2="1632.0" y2="1493.5" stroke="#77ac30"/>
<line x1="1824.0" y1="1229.5" x2="2004.0" y2="1229.5" stroke="#77ac30" stroke-dasharray="37 34.5"/>
<line x1="1824.0" y1="1317.5" x2="2004.0" y2="1317.5" stroke="#77ac30" stroke-dasharray="37 7.6 19.3 7.6"/>
<line x1="1824.0" y1="1405.5" x2="2004.0" y2="1405.5" stroke="#a2142f"/>
</g>
<g font-size="69.7" fill="#000" stroke="#000" stroke-width="0.8" stroke-linejoin="round">
<text x="1157.5" y="1252.8">1X RPM</text>
<text x="1157.5" y="1340.8">INITIAL</text>
<text x="1157.5" y="1428.8">GA</text>
<text x="1157.5" y="1516.8">DE</text>
<text x="1645.0" y="1252.8">SA</text>
<text x="1645.0" y="1340.8">GSA</text>
<text x="1645.0" y="1428.8">BH</text>
<text x="1645.0" y="1516.8">PSO</text>
<text x="2015.7" y="1252.8">HHO</text>
<text x="2015.7" y="1340.8">ABC</text>
<text x="2015.7" y="1428.8">PS</text>
</g>
</svg></body></html>
